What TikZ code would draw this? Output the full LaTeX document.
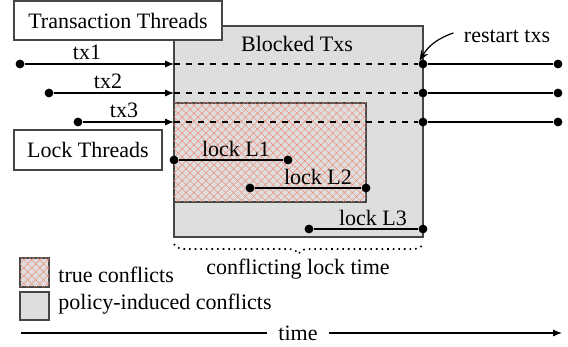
\documentclass[tikz,border=0pt]{standalone}
\usepackage{fontspec}
\setmainfont{Liberation Serif}
\usetikzlibrary{arrows.meta,patterns.meta,decorations.pathreplacing}

\definecolor{blockgray}{RGB}{222,222,222}
\definecolor{hatchred}{RGB}{238,140,120}
\definecolor{edgegray}{RGB}{70,70,70}

\tikzset{
  dot/.style={circle,fill=black,inner sep=0pt,minimum size=4.4pt},
  thread/.style={line width=0.6pt},
  blocked/.style={fill=blockgray,draw=edgegray,line width=0.6pt},
  hatched/.style={fill=blockgray,draw=edgegray,line width=0.6pt,
    postaction={pattern={Lines[angle=45,distance=2.8pt,line width=0.25pt]},pattern color=hatchred},
    postaction={pattern={Lines[angle=-45,distance=2.8pt,line width=0.25pt]},pattern color=hatchred}},
  titlebox/.style={draw=edgegray,fill=white,line width=0.6pt,inner sep=0pt},
  lbl/.style={anchor=base,inner sep=0pt},
  tip/.style={-{Latex[length=4.5pt,width=3.6pt]}}
}

\begin{document}
\begin{tikzpicture}[x=0.5pt,y=-0.5pt,font=\fontsize{11}{13}\selectfont]
\useasboundingbox (0,0) rectangle (568,347);

% conflict regions
\draw[blocked] (174,26) rectangle (423,237);
\draw[hatched] (174,103) rectangle (366,202);
\node[lbl] (blk) at (297,52) {Blocked Txs};

% thread titles
\node[titlebox,minimum width=104pt,minimum height=19.5pt] (tt) at (118,20.5) {Transaction Threads};
\node[titlebox,minimum width=74pt,minimum height=20pt] (lt) at (88,150) {Lock Threads};

% transaction threads
\node[dot] (s1) at (20,64) {};
\node[dot] (s2) at (49,93) {};
\node[dot] (s3) at (78,122) {};
\coordinate (b1) at (174,64);
\coordinate (b2) at (174,93);
\coordinate (b3) at (174,122);
\node[dot] (r1) at (423,64) {};
\node[dot] (r2) at (423,93) {};
\node[dot] (r3) at (423,122) {};
\node[dot] (e1) at (558,64) {};
\node[dot] (e2) at (558,93) {};
\node[dot] (e3) at (558,122) {};

\draw[thread,tip] (s1) -- (b1);
\draw[thread,tip] (s2) -- (b2);
\draw[thread,tip] (s3) -- (b3);
\draw[thread,dashed] (b1) -- (r1);
\draw[thread,dashed] (b2) -- (r2);
\draw[thread,dashed] (b3) -- (r3);
\draw[thread] (r1) -- (e1);
\draw[thread] (r2) -- (e2);
\draw[thread] (r3) -- (e3);

\node[lbl] (tx1) at (87,60) {tx1};
\node[lbl] (tx2) at (108,89) {tx2};
\node[lbl] (tx3) at (124,118) {tx3};

% lock threads
\node[dot] (l1s) at (174,160) {};
\node[dot] (l1e) at (288,160) {};
\node[dot] (l2s) at (250,188) {};
\node[dot] (l2e) at (366,188) {};
\node[dot] (l3s) at (309,229) {};
\node[dot] (l3e) at (423,229) {};
\draw[thread] (l1s) -- (l1e);
\draw[thread] (l2s) -- (l2e);
\draw[thread] (l3s) -- (l3e);
\node[lbl] (L1) at (236,157) {lock L1};
\node[lbl] (L2) at (318,185) {lock L2};
\node[lbl] (L3) at (373,226) {lock L3};

% restart
\node[lbl] (rs) at (507,43) {restart txs};
\draw[line width=0.6pt,-{Stealth[length=5pt,width=4pt]}] (rs.west) ++(-10,-4) to[bend right=20] (r1.north west);

% conflicting lock time
\draw[line width=0.8pt,dotted,decorate,decoration={brace,mirror,amplitude=5pt}] (174,244) -- (423,244);
\node[lbl] (clt) at (298,275) {conflicting lock time};

% legend
\draw[hatched] (20,258) rectangle (49,287);
\draw[blocked] (20,292) rectangle (49,320);
\node[lbl,anchor=base west] (tc) at (58,283) {true conflicts};
\node[lbl,anchor=base west] (pc) at (58,310) {policy-induced conflicts};

% time axis
\coordinate (t0) at (21,333);
\coordinate (t1) at (562,333);
\node[inner sep=5.5pt] (time) at (298,333) {time};
\draw[line width=0.6pt] (t0) -- (time);
\draw[line width=0.6pt,tip] (time) -- (t1);
\end{tikzpicture}
\end{document}
